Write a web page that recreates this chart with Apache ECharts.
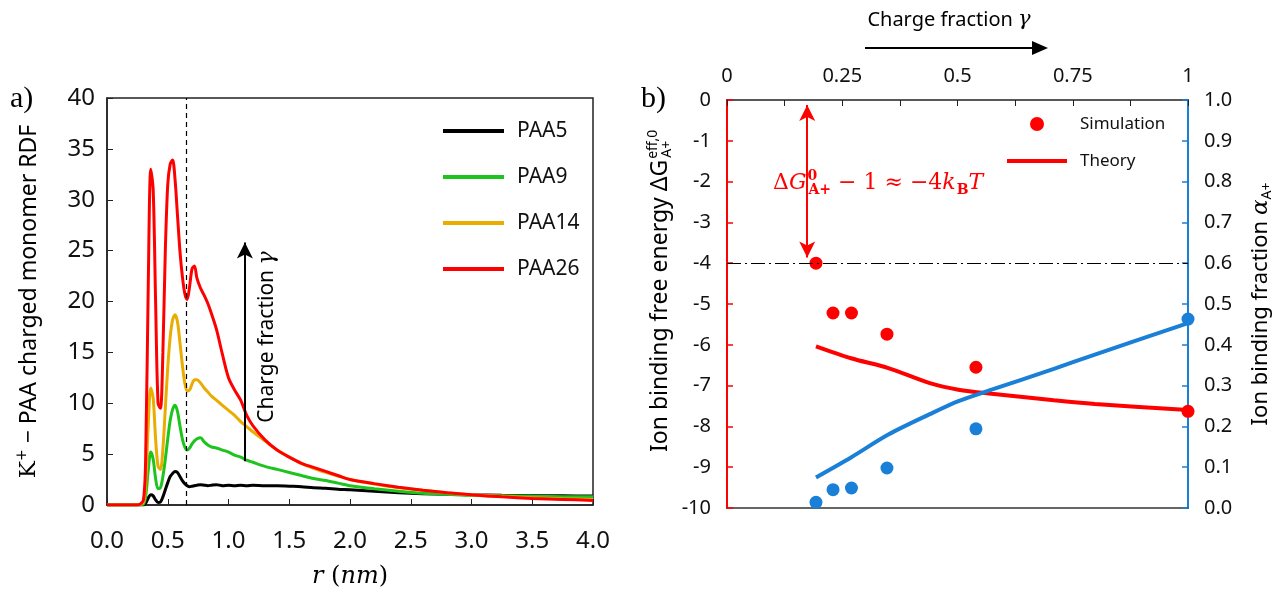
<!DOCTYPE html>
<html>
<head>
<meta charset="utf-8">
<script src="https://cdn.jsdelivr.net/npm/echarts@6/dist/echarts.min.js"></script>
<style>
  html, body { margin: 0; padding: 0; background: #fff; }
  #chart-panel { width: 1287px; height: 601px; }
</style>
</head>
<body>
<div id="chart-panel"></div>
<script>
// a) RDF curves, r in nm
var rGrid = [0, 0.25, 0.30, 0.32, 0.34, 0.36, 0.38, 0.40, 0.42, 0.44, 0.46, 0.48, 0.50, 0.52, 0.54, 0.56, 0.58, 0.60, 0.62, 0.64, 0.66, 0.68, 0.70, 0.72, 0.74, 0.77, 0.80, 0.83, 0.86, 0.90, 0.95, 1.00, 1.05, 1.10, 1.15, 1.20, 1.30, 1.40, 1.50, 1.60, 1.70, 1.80, 1.90, 2.00, 2.20, 2.40, 2.60, 2.80, 3.00, 3.25, 3.50, 3.75, 4.00];
var paa5 = [0, 0, 0, 0.2, 0.7, 1.0, 0.9, 0.5, 0.25, 0.3, 0.8, 1.5, 2.2, 2.8, 3.1, 3.3, 3.2, 2.8, 2.4, 2.1, 1.9, 1.8, 1.85, 1.9, 1.95, 2.0, 1.95, 1.9, 1.95, 2.0, 1.9, 1.95, 1.9, 1.95, 1.9, 1.95, 1.9, 1.9, 1.85, 1.8, 1.7, 1.65, 1.55, 1.5, 1.35, 1.2, 1.1, 1.05, 1.0, 0.95, 0.92, 0.9, 0.88];
var paa9 = [0, 0, 0.1, 1, 3.5, 5.2, 4.5, 2.6, 1.6, 1.7, 2.8, 4.5, 6.5, 8.3, 9.4, 9.8, 9.2, 7.8, 6.5, 5.7, 5.4, 5.6, 6.0, 6.3, 6.5, 6.6, 6.2, 5.9, 5.7, 5.6, 5.4, 5.2, 4.9, 4.7, 4.4, 4.2, 3.8, 3.5, 3.2, 2.9, 2.6, 2.4, 2.15, 1.9, 1.6, 1.35, 1.15, 1.05, 0.95, 0.9, 0.85, 0.82, 0.8];
var paa14 = [0, 0, 0.3, 2.5, 8, 11.5, 10.5, 6.5, 3.8, 3.5, 5.5, 9.5, 13.5, 16.5, 18.2, 18.7, 18, 16, 13.8, 12, 11.2, 11.3, 11.9, 12.3, 12.3, 12, 11.5, 11.1, 10.7, 10.3, 9.8, 9.3, 8.8, 8.2, 7.7, 7.2, 6.3, 5.4, 4.7, 4.1, 3.6, 3.2, 2.85, 2.5, 2.05, 1.7, 1.45, 1.2, 1.0, 0.85, 0.72, 0.62, 0.55];
var paa26 = [0, 0, 0.5, 6, 22, 33, 31, 20, 10, 9.5, 15, 25, 31.5, 33.5, 33.9, 32, 28.5, 25, 22.5, 20.8, 20.2, 21.5, 23.2, 23.5, 22.3, 21.3, 20.6, 19.8, 18.8, 17.3, 14.8, 12.5, 11.3, 10.3, 8.8, 7.8, 6.4, 5.4, 4.7, 4.1, 3.7, 3.3, 2.9, 2.5, 2.1, 1.75, 1.45, 1.2, 1.0, 0.8, 0.65, 0.55, 0.45];
var rdfNames = ['PAA5', 'PAA9', 'PAA14', 'PAA26'];
var rdfColors = ['#000000', '#1ec41e', '#e9ac00', '#ff0000'];
var rdfValues = [paa5, paa9, paa14, paa26];
var firstShellR = 0.65;

// b) binding vs charge fraction
var gammaSim = [0.193, 0.23, 0.27, 0.347, 0.54, 1.0];
var dGSim = [-4.0, -5.22, -5.22, -5.74, -6.55, -7.63];
var alphaSim = [0.014, 0.045, 0.049, 0.098, 0.194, 0.463];
var gammaTh = [0.193, 0.269, 0.35, 0.44, 0.502, 0.574, 0.709, 0.798, 1.0];
var dGTh = [-6.04, -6.33, -6.57, -6.94, -7.1, -7.2, -7.36, -7.45, -7.6];
var alphaTh = [0.075, 0.124, 0.18, 0.23, 0.262, 0.29, 0.341, 0.376, 0.453];
var gammaTopLabels = {'0': '0', '0.25': '0.25', '0.5': '0.5', '0.75': '0.75', '1': '1'};

var RED = '#ff0000';
var BLUE = '#1a7fd6';
var SANS = 'Noto Sans';
var SERIF = 'DejaVu Serif';

function zip(xs, ys) {
  return xs.map(function (x, i) { return [x, ys[i]]; });
}

var myChart = echarts.init(document.getElementById('chart-panel'));

var series = [];
rdfNames.forEach(function (name, i) {
  var s = {
    name: name,
    type: 'line',
    xAxisIndex: 0,
    yAxisIndex: 0,
    data: zip(rGrid, rdfValues[i]),
    showSymbol: false,
    smooth: 0.3,
    lineStyle: { color: rdfColors[i], width: 3 },
    itemStyle: { color: rdfColors[i] },
    silent: true
  };
  if (i === 0) {
    // first shell boundary
    s.markLine = {
      silent: true,
      symbol: 'none',
      label: { show: false },
      lineStyle: { color: '#000', type: [5, 4], width: 1.2 },
      data: [[{ coord: [firstShellR, 0] }, { coord: [firstShellR, 40] }]]
    };
  }
  if (i === 3) {
    // charge fraction arrow
    s.markLine = {
      silent: true,
      symbol: ['none', 'arrow'],
      symbolSize: [12, 16],
      label: { show: false },
      lineStyle: { color: '#000', type: 'solid', width: 2 },
      data: [[{ coord: [1.135, 4.3] }, { coord: [1.135, 25.8] }]]
    };
  }
  series.push(s);
});

series.push({
  name: 'Theory',
  type: 'line',
  xAxisIndex: 1,
  yAxisIndex: 1,
  data: zip(gammaTh, dGTh),
  showSymbol: false,
  smooth: 0.3,
  lineStyle: { color: RED, width: 4 },
  itemStyle: { color: RED },
  silent: true,
  markLine: {
    silent: true,
    symbol: 'none',
    label: { show: false },
    lineStyle: { color: '#000', type: [14, 4, 2, 4], width: 1 },
    data: [{ yAxis: -4 }]
  }
});
series.push({
  name: 'Theory alpha',
  type: 'line',
  xAxisIndex: 1,
  yAxisIndex: 2,
  data: zip(gammaTh, alphaTh),
  showSymbol: false,
  smooth: 0.3,
  lineStyle: { color: BLUE, width: 4 },
  itemStyle: { color: BLUE },
  silent: true
});
series.push({
  name: 'Simulation alpha',
  type: 'scatter',
  xAxisIndex: 1,
  yAxisIndex: 2,
  data: zip(gammaSim, alphaSim),
  symbolSize: 13,
  itemStyle: { color: BLUE, opacity: 1 },
  clip: false,
  silent: true
});
series.push({
  name: 'Simulation',
  type: 'scatter',
  xAxisIndex: 1,
  yAxisIndex: 1,
  data: zip(gammaSim, dGSim),
  symbolSize: 13,
  itemStyle: { color: RED, opacity: 1 },
  clip: false,
  silent: true,
  markLine: {
    silent: true,
    label: { show: false },
    symbol: ['arrow', 'arrow'],
    symbolSize: [12, 16],
    lineStyle: { color: RED, type: 'solid', width: 2 },
    data: [[{ coord: [0.174, -0.12] }, { coord: [0.174, -3.86] }]]
  }
});

myChart.setOption({
  backgroundColor: '#fff',
  animation: false,
  grid: [
    { left: 107, top: 98, width: 486, height: 407, show: true, borderColor: '#222', borderWidth: 1.5 },
    { left: 727, top: 100, width: 461, height: 408 }
  ],
  xAxis: [
    {
      gridIndex: 0,
      type: 'value',
      min: 0,
      max: 4,
      interval: 0.5,
      name: '{i|r}{n| (}{i|nm}{n|)}',
      nameLocation: 'middle',
      nameGap: 60,
      nameTextStyle: {
        rich: {
          i: { fontFamily: SERIF, fontStyle: 'italic', fontSize: 24, color: '#000' },
          n: { fontFamily: SERIF, fontSize: 24, color: '#000' }
        }
      },
      axisLine: { lineStyle: { color: '#222', width: 1.5 } },
      axisTick: { inside: true, length: 6, lineStyle: { color: '#222' } },
      axisLabel: {
        margin: 24,
        fontFamily: SANS,
        fontSize: 24,
        color: '#111',
        formatter: function (v) { return v.toFixed(1); }
      },
      splitLine: { show: false }
    },
    {
      gridIndex: 1,
      type: 'value',
      position: 'top',
      min: 0,
      max: 1,
      interval: 0.125,
      axisLine: { lineStyle: { color: '#222', width: 1.5 } },
      axisTick: { inside: true, length: 6, lineStyle: { color: '#222' } },
      axisLabel: {
        margin: 14,
        fontFamily: SANS,
        fontSize: 20,
        color: '#111',
        showMinLabel: true,
        showMaxLabel: true,
        formatter: function (v) {
          var k = String(Math.round(v * 1000) / 1000);
          return gammaTopLabels[k] || '';
        }
      },
      splitLine: { show: false }
    },
    {
      gridIndex: 1,
      type: 'value',
      position: 'bottom',
      min: 0,
      max: 1,
      axisLine: { lineStyle: { color: '#333', width: 1.5 } },
      axisTick: { show: false },
      axisLabel: { show: false },
      splitLine: { show: false }
    }
  ],
  yAxis: [
    {
      gridIndex: 0,
      type: 'value',
      min: 0,
      max: 40,
      interval: 5,
      name: '{k|K}{sp|+}{n| − PAA charged monomer RDF}',
      nameLocation: 'middle',
      nameRotate: 90,
      nameGap: 64,
      nameTextStyle: {
        rich: {
          k: { fontFamily: SERIF, fontSize: 23, color: '#000', lineHeight: 28 },
          sp: { fontFamily: SERIF, fontSize: 14, color: '#000', verticalAlign: 'top', lineHeight: 14, padding: [0, 0, 14, 0] },
          n: { fontFamily: SANS, fontSize: 23, color: '#000', lineHeight: 28 }
        }
      },
      axisLine: { show: true, lineStyle: { color: '#222', width: 1.5 } },
      axisTick: { show: true, inside: true, length: 6, lineStyle: { color: '#222' } },
      axisLabel: { margin: 12, fontFamily: SANS, fontSize: 24, color: '#111' },
      splitLine: { show: false }
    },
    {
      gridIndex: 1,
      type: 'value',
      position: 'left',
      min: -10,
      max: 0,
      interval: 1,
      axisLine: { show: true, onZero: false, lineStyle: { color: RED, width: 2 } },
      axisTick: { show: true, inside: true, length: 6, lineStyle: { color: RED, width: 1.5 } },
      axisLabel: { margin: 16, fontFamily: SANS, fontSize: 20, color: '#111' },
      splitLine: { show: false }
    },
    {
      gridIndex: 1,
      type: 'value',
      position: 'right',
      min: 0,
      max: 1,
      interval: 0.1,
      name: '{n|Ion binding fraction }{a|α}{sb|A+}',
      nameLocation: 'middle',
      nameRotate: 90,
      nameGap: 60,
      nameTextStyle: {
        rich: {
          n: { fontFamily: SANS, fontSize: 22, color: '#000', lineHeight: 26 },
          a: { fontFamily: SERIF, fontStyle: 'italic', fontSize: 23, color: '#000', lineHeight: 26 },
          sb: { fontFamily: SANS, fontSize: 14, color: '#000', verticalAlign: 'bottom', lineHeight: 14, padding: [14, 0, 0, 0] }
        }
      },
      axisLine: { show: true, onZero: false, lineStyle: { color: BLUE, width: 2 } },
      axisTick: { show: true, inside: true, length: 6, lineStyle: { color: BLUE, width: 1.5 } },
      axisLabel: {
        margin: 16,
        fontFamily: SANS,
        fontSize: 20,
        color: '#111',
        formatter: function (v) { return v.toFixed(1); }
      },
      splitLine: { show: false }
    }
  ],
  legend: [
    {
      data: rdfNames.map(function (n) { return { name: n, icon: 'rect' }; }),
      orient: 'vertical',
      left: 443,
      top: 120,
      itemWidth: 61,
      itemHeight: 4,
      itemGap: 24,
      padding: 0,
      selectedMode: false,
      textStyle: { fontFamily: SANS, fontSize: 21, color: '#111', lineHeight: 22, padding: [0, 0, 0, 8] }
    },
    {
      data: [
        { name: 'Simulation', icon: 'circle' },
        { name: 'Theory', icon: 'path://M0,0 L30,0 L30,2 L0,2 Z' }
      ],
      orient: 'vertical',
      left: 1007,
      top: 114,
      itemWidth: 60,
      itemHeight: 14,
      itemGap: 17,
      padding: 0,
      selectedMode: false,
      textStyle: { fontFamily: SANS, fontSize: 17, color: '#111', lineHeight: 20, padding: [0, 0, 0, 8] }
    }
  ],
  graphic: [
    { type: 'text', left: 10, top: 84, style: { text: 'a)', fontFamily: 'Liberation Serif', fontSize: 30, fill: '#000' } },
    { type: 'text', left: 641, top: 84, style: { text: 'b)', fontFamily: 'Liberation Serif', fontSize: 30, fill: '#000' } },
    {
      // left axis title of panel b
      type: 'text',
      x: 660,
      y: 452,
      rotation: Math.PI / 2,
      style: {
        text: '{n|Ion binding free energy ΔG}{sp|eff,0}{sb|A+}',
        align: 'left',
        verticalAlign: 'middle',
        rich: {
          n: { fontFamily: SANS, fontSize: 23, fill: '#000', lineHeight: 28 },
          sp: { fontFamily: SANS, fontSize: 14, fill: '#000', width: 0, verticalAlign: 'top', lineHeight: 14, padding: [0, 0, 15, 1] },
          sb: { fontFamily: SANS, fontSize: 14, fill: '#000', verticalAlign: 'bottom', lineHeight: 14, padding: [15, 0, 0, 1] }
        }
      }
    },
    {
      type: 'text',
      x: 267,
      y: 337,
      rotation: Math.PI / 2,
      style: {
        text: '{n|Charge fraction }{g|γ}',
        align: 'center',
        verticalAlign: 'middle',
        rich: {
          n: { fontFamily: SANS, fontSize: 21, fill: '#000' },
          g: { fontFamily: SERIF, fontStyle: 'italic', fontSize: 22, fill: '#000' }
        }
      }
    },
    {
      type: 'text',
      x: 949,
      y: 20,
      style: {
        text: '{n|Charge fraction }{g|γ}',
        align: 'center',
        verticalAlign: 'middle',
        rich: {
          n: { fontFamily: SANS, fontSize: 20, fill: '#000' },
          g: { fontFamily: SERIF, fontStyle: 'italic', fontSize: 21, fill: '#000' }
        }
      }
    },
    { type: 'line', shape: { x1: 865, y1: 48, x2: 1036, y2: 48 }, style: { stroke: '#000', lineWidth: 2 } },
    { type: 'polygon', shape: { points: [[1048, 48], [1032, 41], [1032, 55]] }, style: { fill: '#000' } },
    {
      type: 'text',
      x: 773,
      y: 183,
      style: {
        text: '{r|Δ}{i|G}{sp|0}{sb|A+}{r| − 1 ≈ −4}{i|k}{sb|B}{i|T}',
        verticalAlign: 'middle',
        rich: {
          r: { fontFamily: SERIF, fontSize: 22, fill: RED, lineHeight: 28 },
          i: { fontFamily: SERIF, fontStyle: 'italic', fontSize: 22, fill: RED, lineHeight: 28 },
          sp: { fontFamily: SERIF, fontSize: 14, fontWeight: 'bold', fill: RED, width: 0, verticalAlign: 'top', lineHeight: 14, padding: [0, 0, 16, 1] },
          sb: { fontFamily: SERIF, fontSize: 14, fontWeight: 'bold', fill: RED, verticalAlign: 'bottom', lineHeight: 14, padding: [16, 0, 0, 1] }
        }
      }
    }
  ],
  series: series
});

window.onresize = function () {
  myChart.resize();
};
</script>
</body>
</html>
